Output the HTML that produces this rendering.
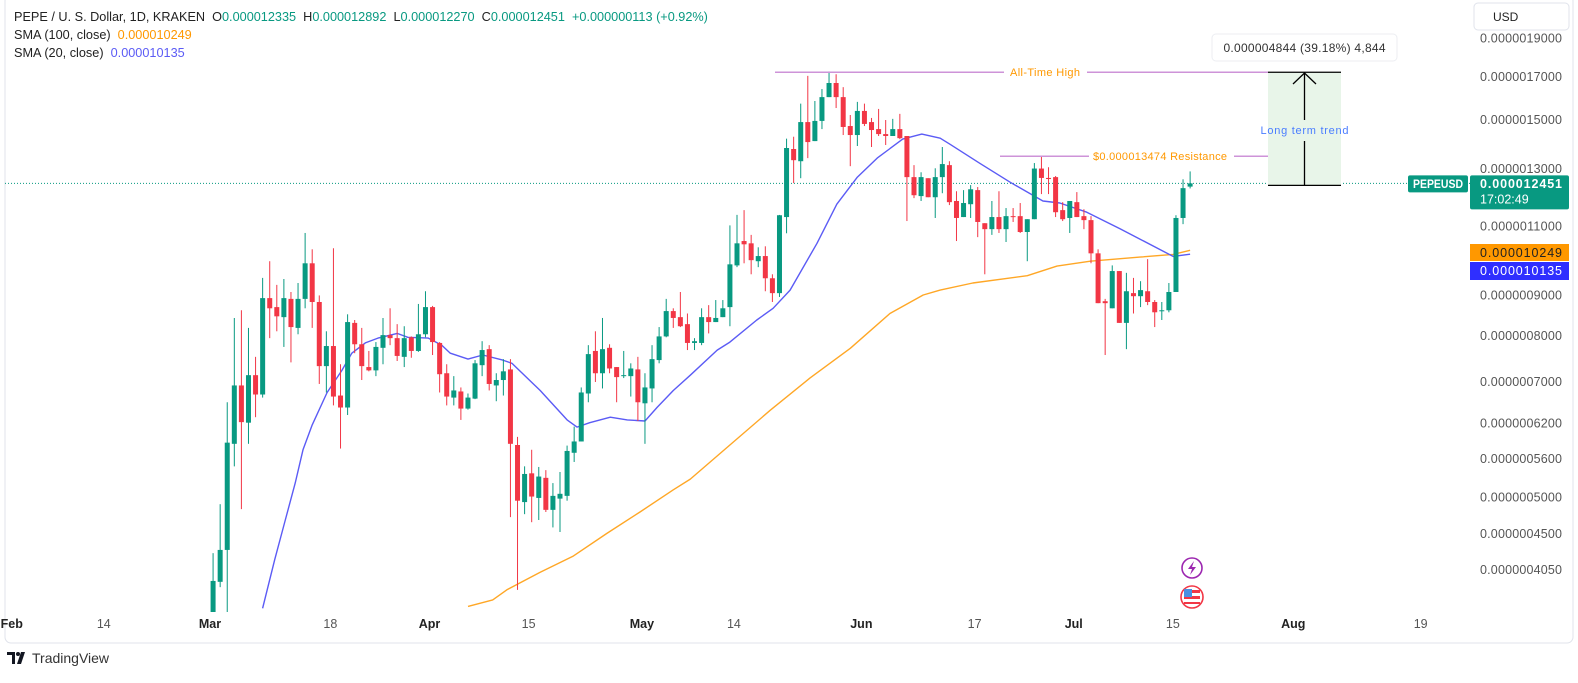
<!DOCTYPE html>
<html><head><meta charset="utf-8"><title>PEPE / USD chart</title>
<style>
html,body{margin:0;padding:0;background:#fff;}
body{width:1578px;height:678px;overflow:hidden;font-family:"Liberation Sans",sans-serif;}
svg text{font-family:"Liberation Sans",sans-serif;}
</style></head>
<body>
<svg id="chart" width="1578" height="678" viewBox="0 0 1578 678" xmlns="http://www.w3.org/2000/svg">
  <rect x="5" y="-5" width="1568" height="648" rx="6" fill="#fff" stroke="#e0e3eb"/>
  <defs><clipPath id="plotClip"><rect x="5" y="0" width="1465" height="612"/></clipPath></defs>
  <g id="plot" clip-path="url(#plotClip)"></g>
  <g id="overlay"></g>
  <g id="axes"></g>
</svg>
<script>
// ---- data (prices in units of 1e-6 USD), index 0 = Mar 1 ----
const opens  = [3.0,3.55,3.91,4.29,5.84,6.92,6.21,7.13,6.74,8.92,8.69,8.44,8.90,8.18,8.90,9.87,8.82,7.32,7.76,6.72,6.49,8.30,7.80,7.30,7.23,7.72,8.01,7.94,7.52,7.96,7.65,8.03,8.69,7.83,
7.17,6.68,6.80,6.47,6.66,7.34,7.69,6.92,7.03,7.25,5.82,4.93,5.36,4.99,5.29,4.82,4.98,5.02,5.69,5.88,6.76,7.65,7.17,7.72,7.30,7.11,7.11,7.25,6.57,6.86,7.45,7.98,8.59,8.44,8.27,
7.83,7.83,8.44,8.32,8.44,8.69,9.81,10.53,10.46,9.93,10.08,9.45,9.05,11.29,13.76,13.28,14.88,14.08,14.93,16.0,16.67,16.0,14.71,14.33,15.37,14.88,14.58,14.37,14.29,14.58,14.29,12.68,12.00,12.64,11.96,
12.68,13.13,11.83,11.29,11.72,12.21,11.09,10.90,11.29,10.90,11.32,11.32,10.81,11.22,13.00,12.65,12.68,11.52,11.26,11.79,11.32,11.19,10.16,8.84,8.66,9.65,8.30,9.05,8.97,9.10,8.82,8.59,8.61,9.08,11.26,12.335];
const highs  = [3.45,4.25,4.90,6.59,8.42,8.61,8.18,7.52,9.46,9.93,9.27,9.43,9.08,9.32,10.78,10.28,8.99,8.10,10.31,7.36,8.51,8.37,8.18,7.65,7.85,8.42,8.66,8.27,8.22,7.98,8.77,9.10,8.72,7.85,
7.36,7.11,6.88,6.76,7.45,7.87,7.78,7.17,7.47,7.47,5.96,5.47,5.74,5.46,5.41,5.21,5.38,5.81,6.14,6.88,7.78,8.10,8.42,7.80,7.30,7.65,7.38,7.52,7.17,7.78,8.20,8.90,8.66,9.08,8.53,
7.94,8.66,8.74,8.87,8.87,11.02,11.36,11.52,10.72,10.34,10.37,9.56,11.36,14.18,14.26,15.70,17.02,15.82,16.38,17.24,17.10,16.47,15.19,15.78,15.70,15.06,15.46,14.97,15.02,15.24,14.29,13.13,12.86,12.64,13.01,
13.84,13.28,12.17,12.21,12.39,12.32,11.09,11.83,12.17,11.59,11.59,11.76,11.22,13.21,13.47,13.05,12.72,11.79,11.83,12.14,11.55,11.32,10.28,8.90,9.81,9.65,9.60,9.46,9.37,9.99,8.87,8.82,9.32,11.35,12.60,12.892];
const lows   = [2.9,3.45,3.85,3.55,5.47,4.83,5.84,6.31,6.68,7.94,8.10,7.74,7.40,8.03,8.66,8.18,6.95,6.78,6.53,5.76,6.35,7.60,7.03,7.21,7.11,7.36,7.78,7.43,7.30,7.50,7.63,7.96,7.56,6.78,
6.53,6.53,6.26,6.45,6.65,7.11,6.82,6.61,6.72,4.72,3.82,4.76,4.65,4.68,4.79,4.58,4.52,4.95,5.54,5.88,6.59,6.99,6.86,7.17,6.59,7.07,6.70,6.24,5.84,6.59,7.38,7.96,8.18,8.20,7.67,
7.67,7.78,8.05,8.32,8.44,8.22,9.76,9.87,9.56,9.76,9.10,8.82,8.95,10.77,12.46,12.64,13.40,14.08,14.58,16.0,15.50,14.33,13.09,13.88,14.71,13.84,14.29,13.92,14.29,14.16,11.16,11.93,11.83,11.96,11.26,
12.10,11.69,10.53,11.29,11.26,10.65,9.56,10.72,10.78,10.50,11.13,10.78,9.93,11.22,12.07,12.07,11.29,11.16,10.78,11.29,10.90,9.87,8.79,7.56,8.66,8.30,7.69,8.53,8.69,8.74,8.20,8.37,8.56,9.08,11.06,12.270];
const closes = [3.3,3.92,4.29,5.86,6.92,6.22,7.13,6.74,8.92,8.66,8.46,8.92,8.20,8.90,9.87,8.82,7.32,7.76,6.70,6.49,8.32,7.80,7.32,7.23,7.74,8.01,7.94,7.54,7.94,7.65,8.03,8.69,7.85,7.15,
6.70,6.82,6.47,6.68,7.38,7.67,6.95,7.03,7.21,5.84,4.95,5.35,5.01,5.31,4.82,5.02,5.05,5.72,5.88,6.78,7.58,7.17,7.69,7.27,7.09,7.13,7.27,6.59,6.88,7.47,7.98,8.59,8.42,8.22,7.83,
7.87,8.44,8.32,8.42,8.66,9.84,10.46,10.43,9.96,10.08,9.45,9.05,11.35,13.80,13.32,14.88,14.04,14.93,16.0,16.67,16.0,14.67,14.33,15.37,14.80,14.54,14.37,14.29,14.58,14.20,12.68,12.03,12.68,11.96,12.68,
13.17,11.79,11.26,11.76,12.24,11.13,10.90,11.29,10.90,11.32,11.29,10.81,11.22,13.00,12.65,12.61,11.45,11.22,11.83,11.29,11.19,10.16,8.79,8.79,9.65,8.30,9.10,8.97,9.13,8.82,8.56,8.61,9.08,11.26,12.28,12.451];
const sma20Idx = [8,9.7,11.2,12.6,13.7,15,17.1,19.2,20.6,22.5,24.3,27,28.5,31.4,33.3,34.5,37,39.1,41.9,43.2,47.2,51,52.4,54.2,57.1,59.5,62,63.7,66,68.4,72.2,74,77.8,80.1,82.5,86.3,89.1,92,94.8,98.4,101.1,103.7,105.1,109.3,113.6,118.2,120.6,124.4,129.1,131.9,136.6,139];
const sma20Val = [3.62,4.17,4.68,5.21,5.74,6.17,6.78,7.23,7.60,7.83,7.94,8.05,7.96,7.94,7.78,7.60,7.47,7.56,7.45,7.38,6.82,6.26,6.13,6.21,6.31,6.26,6.24,6.49,6.82,7.13,7.67,7.85,8.37,8.66,9.13,10.46,11.72,12.68,13.40,14.16,14.37,14.20,13.95,13.20,12.49,11.83,11.76,11.45,10.91,10.59,10.07,10.135];
const sma100Idx = [37,40.5,42.5,47.2,51.8,56.6,61.3,66,68.4,74,79.7,85.3,91,96.6,101.3,103.7,108.3,116,120.2,124.9,131.9,136.6,139];
const sma100Val = [3.64,3.71,3.82,4.02,4.21,4.50,4.79,5.11,5.27,5.82,6.44,7.07,7.71,8.53,9.00,9.13,9.32,9.52,9.79,9.93,10.05,10.13,10.249];
const priceTicks = [19,17,15,13,11,9,8,7,6.2,5.6,5.0,4.5,4.05];
const timeTickIdx = [-28,-15,0,17,31,45,61,74,92,108,122,136,153,171];
const timeTickLabels = ["Feb","14","Mar","18","Apr","15","May","14","Jun","17","Jul","15","Aug","19"];
const athPrice = 17.2, resistancePrice = 13.474, lastPrice = 12.451, sma100Last = 10.249, sma20Last = 10.135;

// ---- scales ----
function xOf(i){ return 206 + i*7.08; }
function yOf(p){ return 38 + 344*Math.log(19/p); }
const NS="http://www.w3.org/2000/svg";
function mk(tag, attrs, parent, txt){
  const e=document.createElementNS(NS,tag);
  for(const k in attrs) e.setAttribute(k, attrs[k]);
  if(txt!==undefined) e.textContent=txt;
  parent.appendChild(e); return e;
}
const plot=document.getElementById('plot');
const overlay=document.getElementById('overlay');
const axes=document.getElementById('axes');
const GREEN='#089981', RED='#f23645';

const dl = mk('line',{x1:5,x2:1470,y1:yOf(lastPrice),y2:yOf(lastPrice),stroke:GREEN,'stroke-width':1,'stroke-dasharray':'1 2'},plot);



function smaPath(idx, val, color, name){
  let d='';
  for(let k=0;k<idx.length;k++){ d += (k?'L':'M') + xOf(idx[k]).toFixed(1)+','+yOf(val[k]).toFixed(1); }
  const p=mk('path',{d:d,fill:'none',stroke:color,'stroke-width':1.4,'stroke-linejoin':'round'},plot);
  
  
}
smaPath(sma100Idx, sma100Val, '#ffa726', 'sma-100-line');
smaPath(sma20Idx, sma20Val, '#5b5bf5', 'sma-20-line');

for(let i=0;i<opens.length;i++){
  const up = closes[i]>=opens[i];
  const c = up?GREEN:RED;
  const x = xOf(i);
  const g = mk('g',{},plot);
  
  
  mk('line',{x1:x,x2:x,y1:yOf(highs[i]),y2:yOf(lows[i]),stroke:c,'stroke-width':1},g);
  const yt=yOf(Math.max(opens[i],closes[i])), yb=yOf(Math.min(opens[i],closes[i]));
  mk('rect',{x:x-2.5,y:yt,width:5,height:Math.max(1,yb-yt),fill:c},g);
}

const yA=yOf(athPrice);
const ath=mk('g',{},overlay);


mk('line',{x1:775,x2:1004,y1:yA,y2:yA,stroke:'#ce93d8','stroke-width':1.5},ath);
mk('line',{x1:1087,x2:1268,y1:yA,y2:yA,stroke:'#ce93d8','stroke-width':1.5},ath);
const athT=mk('text',{x:1045,y:yA+4,'text-anchor':'middle','font-size':11,fill:'#ff9800',textLength:70},ath,'All-Time High');



const yR=yOf(resistancePrice);
const res=mk('g',{},overlay);


mk('line',{x1:1000,x2:1089,y1:yR,y2:yR,stroke:'#ce93d8','stroke-width':1.5},res);
mk('line',{x1:1234,x2:1326,y1:yR,y2:yR,stroke:'#ce93d8','stroke-width':1.5},res);
const resT=mk('text',{x:1093,y:yR+4,'font-size':11,fill:'#ff9800',textLength:134},res,'$0.000013474 Resistance');



const yTop=yA, yBot=yOf(lastPrice)+2;
const meas=mk('g',{},overlay);


mk('rect',{x:1268,y:yTop,width:73,height:yBot-yTop,fill:'#e8f5e9'},meas);
mk('line',{x1:1268,x2:1341,y1:yTop,y2:yTop,stroke:'#000','stroke-width':1.3},meas);
mk('line',{x1:1268,x2:1341,y1:yBot,y2:yBot,stroke:'#000','stroke-width':1.3},meas);
mk('line',{x1:1304.5,x2:1304.5,y1:yTop+1,y2:120,stroke:'#000','stroke-width':1.3},meas);
mk('line',{x1:1304.5,x2:1304.5,y1:141,y2:yBot,stroke:'#000','stroke-width':1.3},meas);
mk('path',{d:'M1293,84 L1304.5,73 L1316,84',fill:'none',stroke:'#000','stroke-width':1.3},meas);
const ltt=mk('text',{x:1304.5,y:134,'text-anchor':'middle','font-size':11,fill:'#4a7dff',textLength:88},meas,'Long term trend');


const mb=mk('g',{},overlay);


mk('rect',{x:1212,y:34,width:185,height:27,rx:4,fill:'#fff',stroke:'#eceef2'},mb);
mk('text',{x:1304.5,y:52,'text-anchor':'middle','font-size':12,fill:'#333',textLength:162},mb,'0.000004844 (39.18%) 4,844');

const ic1=mk('g',{},overlay);


mk('circle',{cx:1192,cy:568,r:10,fill:'#fff',stroke:'#9c27b0','stroke-width':1.6},ic1);
mk('path',{d:'M1194,561 L1188,569 L1192,569 L1190,575 L1196,567 L1192,567 Z',fill:'#9c27b0'},ic1);
const ic2=mk('g',{},overlay);


mk('circle',{cx:1192,cy:597,r:11,fill:'#fff',stroke:'#f23645','stroke-width':1.6},ic2);
mk('rect',{x:1184,y:590,width:16,height:3,fill:'#f23645'},ic2);
mk('rect',{x:1184,y:596,width:16,height:3,fill:'#f23645'},ic2);
mk('rect',{x:1184,y:602,width:16,height:2,fill:'#f23645'},ic2);
mk('rect',{x:1184,y:589,width:8,height:8,fill:'#4a90e2'},ic2);

for(let k=0;k<priceTicks.length;k++){
  const p=priceTicks[k];
  const t=mk('text',{x:1562,y:yOf(p)+4.5,'text-anchor':'end','font-size':12.5,fill:'#555',textLength:82},axes,'0.00000'+(p<10?'0':'')+Math.round(p*1000));
  
  
}
for(let k=0;k<timeTickIdx.length;k++){
  const lab=timeTickLabels[k];
  const bold=isNaN(parseInt(lab));
  const t=mk('text',{x:xOf(timeTickIdx[k])+4,y:628,'text-anchor':'middle','font-size':12.5,fill:bold?'#222':'#555','font-weight':bold?'bold':'normal'},axes,lab);
  
  
}
const usd=mk('g',{},axes);


mk('rect',{x:1474,y:3,width:95,height:27,rx:4,fill:'#fff',stroke:'#e0e3eb'},usd);
mk('text',{x:1493,y:21,'font-size':12,fill:'#222'},usd,'USD');

const yL=yOf(lastPrice);
const sym=mk('g',{},axes);


mk('rect',{x:1408,y:yL-8,width:60,height:17,rx:2,fill:GREEN},sym);
mk('text',{x:1438,y:yL+4.5,'text-anchor':'middle','font-size':11.5,'font-weight':'bold',fill:'#fff',textLength:50,lengthAdjust:'spacingAndGlyphs'},sym,'PEPEUSD');
const lt=mk('g',{},axes);


mk('rect',{x:1470,y:yL-8,width:99,height:34,rx:2,fill:GREEN},lt);
mk('text',{x:1480,y:yL+4.5,'font-size':12.5,'font-weight':'bold',fill:'#fff',textLength:82},lt,'0.000012451');
mk('text',{x:1480,y:yL+20,'font-size':12.5,fill:'#fff'},lt,'17:02:49');
const ot=mk('g',{},axes);


mk('rect',{x:1470,y:244,width:99,height:17,fill:'#ff9800'},ot);
mk('text',{x:1480,y:257,'font-size':12.5,fill:'#222',textLength:82},ot,'0.000010249');
const bt=mk('g',{},axes);


mk('rect',{x:1470,y:262,width:99,height:18,fill:'#2f2fff'},bt);
mk('text',{x:1480,y:275,'font-size':12.5,fill:'#fff',textLength:82},bt,'0.000010135');
</script>
<div style="position:absolute;left:14px;top:8px;font-size:12.7px;color:#222;line-height:18px;white-space:nowrap;">
  <div>PEPE / U. S. Dollar, 1D, KRAKEN&nbsp; O<span style="color:#089981">0.000012335</span>&nbsp; H<span style="color:#089981">0.000012892</span>&nbsp; L<span style="color:#089981">0.000012270</span>&nbsp; C<span style="color:#089981">0.000012451</span>&nbsp; <span style="color:#089981">+0.000000113 (+0.92%)</span></div>
  <div>SMA (100, close)&nbsp; <span style="color:#ff9800">0.000010249</span></div>
  <div>SMA (20, close)&nbsp; <span style="color:#5b5bf5">0.000010135</span></div>
</div>
<div style="position:absolute;left:7px;top:650px;font-size:14px;color:#333;display:flex;align-items:center;">
  <svg width="22" height="14" viewBox="0 0 22 14"><path d="M0 1h8v12H5V4H0z M10 13 L14 1 H18 L14 13 Z" fill="#131722"/><circle cx="11" cy="3" r="2" fill="#131722"/></svg>
  <span style="margin-left:3px">TradingView</span>
</div>
</body></html>
